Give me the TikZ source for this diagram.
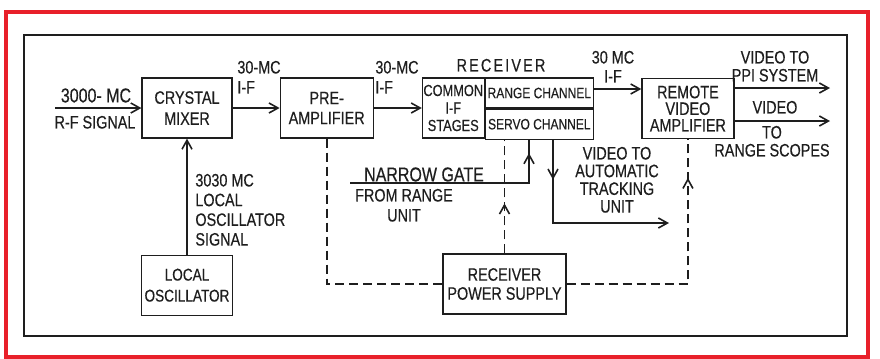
\documentclass[tikz,border=0pt]{standalone}
\usepackage{fontspec}
\setmainfont{Liberation Sans}[FakeStretch=0.8,FakeBold=0.4]
\usetikzlibrary{arrows.meta,positioning,calc,fit,decorations.markings}
\definecolor{FrameRed}{HTML}{E8202A}
\definecolor{Ink}{HTML}{1E1E1E}

\begin{document}
\begin{tikzpicture}[x=0.5pt,y=-0.5pt,
  every node/.style={font=\fontsize{9}{9}\selectfont,align=center,text=Ink},
  box/.style={draw=Ink,line width=0.6pt,minimum height=30pt,inner sep=1pt},
  lbl/.style={inner sep=0pt,anchor=north},
  arr/.style={-{Straight Barb[length=4.5pt,width=5pt]},line width=0.8pt,Ink},
  wire/.style={line width=0.8pt,Ink},
  feed/.style={line width=0.8pt,Ink,dash pattern=on 4.5pt off 2.5pt},
  midarr/.style={postaction={decorate},decoration={markings,
    mark=at position #1 with {\arrow{Straight Barb[length=4.5pt,width=5pt]}}}}
]
\useasboundingbox (0,0) rectangle (880,359);
\draw[FrameRed,line width=2pt] (6,12) rectangle (868,357);
\draw[Ink,line width=1.4pt] (24,35) rectangle (847,336);

\node[box,minimum width=45pt,font=\fontsize{9}{10.5}\selectfont] (mixer) at (187,108) {CRYSTAL\\MIXER};
\node[box,minimum width=46.5pt,font=\fontsize{9}{10}\selectfont,right=23.5pt of mixer] (preamp) {PRE-\\AMPLIFIER};
\node[box,minimum width=30pt,inner sep=0.5pt,font=\fontsize{8}{8.75}\selectfont,right=24pt of preamp] (common) {COMMON\\I-F\\STAGES};
\node[box,minimum width=54pt,minimum height=15pt,font=\fontsize{7.5}{8}\selectfont,anchor=north west] (range) at (common.north east) {RANGE CHANNEL};
\node[box,minimum width=54pt,minimum height=15pt,font=\fontsize{7.5}{8}\selectfont,anchor=north west] (servo) at (range.south west) {SERVO CHANNEL};
\node[fit=(common)(range)(servo),inner sep=0pt] (receiver) {};
\node[lbl] (rcvlbl) at (501,58.5) {\addfontfeature{LetterSpace=12}RECEIVER};
\node[box,minimum width=46pt,font=\fontsize{9}{8.3}\selectfont,right=23.5pt of receiver] (remote) {REMOTE\\VIDEO\\AMPLIFIER};
\node[box,minimum width=45.5pt,font=\fontsize{8.5}{10.5}\selectfont,below=58pt of mixer] (localosc) {LOCAL\\OSCILLATOR};
\node[box,minimum width=61.5pt,font=\fontsize{9}{9.5}\selectfont] (power) at (504.5,284) {RECEIVER\\POWER SUPPLY};

\coordinate (rfin) at (55,108);
\coordinate (ppi) at (830,88);
\coordinate (scopes) at (830,121);
\coordinate (gatein) at (350,183);
\coordinate (gatebend) at (529,183);
\coordinate (trackbend) at (553,223);
\coordinate (trackout) at (669,223);

\draw[arr] (rfin) -- (mixer);
\node[lbl,font=\fontsize{10}{10}\selectfont] (rflbla) at (96,88) {3000- MC};
\node[lbl] (rflblb) at (95,115.5) {R-F SIGNAL};
\draw[arr] (mixer) -- (preamp);
\node[lbl,anchor=north west,align=left,font=\fontsize{9}{10}\selectfont] (iflbla) at (237,60.5) {30-MC\\I-F};
\draw[arr] (preamp) -- (common);
\node[lbl,anchor=north west,align=left,font=\fontsize{9}{10}\selectfont] (iflblb) at (375,60.5) {30-MC\\I-F};
\draw[arr] ([yshift=2pt]range.east) -- ([yshift=2pt]range.east -| remote.west);
\node[lbl,font=\fontsize{9}{9.5}\selectfont] (iflblc) at (613,50.5) {30 MC\\I-F};
\draw[arr] (remote.east |- ppi) -- (ppi);
\node[lbl] (ppilbl) at (775,50.5) {VIDEO TO\\PPI SYSTEM};
\draw[arr] (remote.east |- scopes) -- (scopes);
\node[lbl] (scopelbla) at (775,100.5) {VIDEO};
\node[lbl] (scopelblb) at (772,125.5) {TO\\RANGE SCOPES};
\draw[arr] (localosc.north) -- (localosc.north |- mixer.south);
\node[lbl,anchor=north west,align=left,font=\fontsize{9}{9.85}\selectfont] (lolbl) at (195,173.5) {3030 MC\\LOCAL\\OSCILLATOR\\SIGNAL};

\draw[wire,midarr=0.94] (gatein) -- (gatebend) -- (gatebend |- servo.south);
\node[lbl,font=\fontsize{10}{10}\selectfont] (gatelbla) at (424,167) {NARROW GATE};
\node[lbl,font=\fontsize{9}{10}\selectfont] (gatelblb) at (404,188.5) {FROM RANGE\\UNIT};
\draw[arr,midarr=0.2] (trackbend |- servo.south) -- (trackbend) -- (trackout);
\node[lbl,font=\fontsize{9}{8.85}\selectfont] (tracklbl) at (617,146.5) {VIDEO TO\\AUTOMATIC\\TRACKING\\UNIT};

\draw[feed] (preamp.south) |- (power.west);
\draw[feed,midarr=0.44] (power.north) -- (power.north |- servo.south);
\draw[feed,midarr=0.855] (power.east) -| (remote.south);
\end{tikzpicture}
\end{document}
